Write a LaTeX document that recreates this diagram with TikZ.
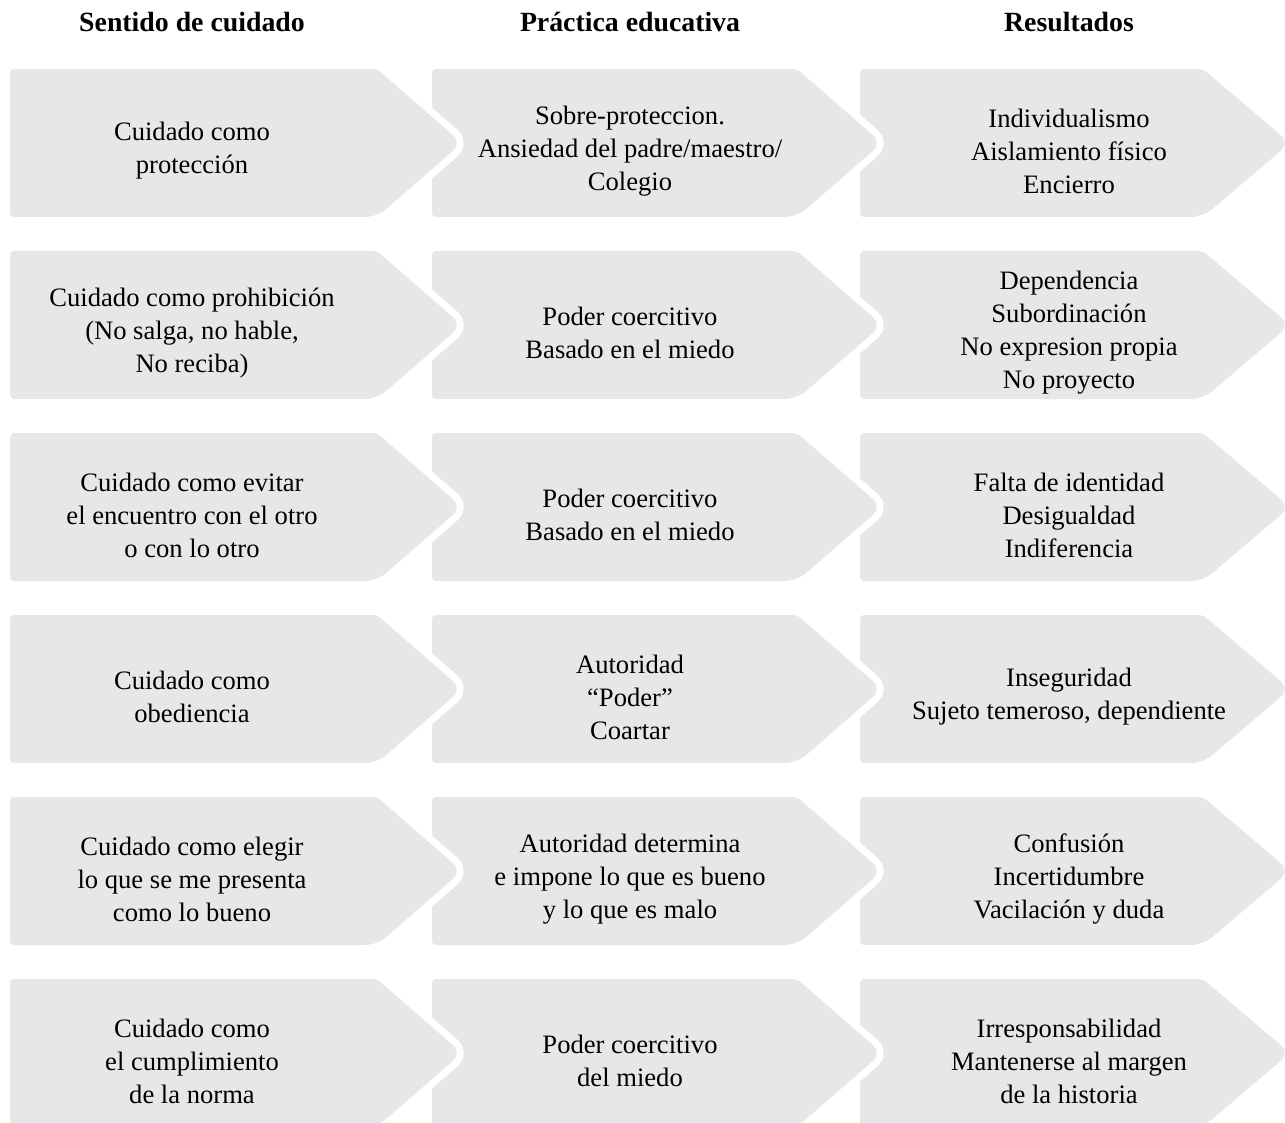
\documentclass[tikz,border=0pt]{standalone}
\usepackage{fontspec}
\setmainfont{Liberation Serif}
\usepackage{xcolor}
\usepackage{tikz}
\definecolor{chevgray}{HTML}{E6E7E8}

\begin{document}
\begin{tikzpicture}[
    x=0.5pt,y=-0.5pt, % one unit = one pixel of the reference
    outer sep=0pt,
    chev/.style={fill=chevgray,rounded corners=2pt},
    cutchev/.style={chev,preaction={draw=white,line width=7pt,line join=round,rounded corners=2pt}},
    txt/.style={align=center,font=\fontsize{13.3}{16.5}\selectfont},
    head/.style={font=\bfseries\fontsize{13.9}{16}\selectfont},
    ]
    \useasboundingbox (0,0) rectangle (1285,1123);
    \clip (0,0) rectangle (1285,1123);

    % chevrons, drawn right to left so each tip cuts into its neighbour
    \foreach \row in {0,...,5} {
        \pgfmathsetmacro{\rt}{69+182*\row}
        \pgfmathsetmacro{\rm}{\rt+74}
        \pgfmathsetmacro{\rb}{\rt+148}
        \path [chev]    (860,\rm) -- (860,\rt) -- (1203,\rt) [rounded corners=6pt] -- (1290,\rm) -- (1203,\rb) [rounded corners=2pt] -- (860,\rb) -- cycle;
        \path [cutchev] (432,\rm) -- (432,\rt) -- (797,\rt)  [rounded corners=6pt] -- (882,\rm)  -- (797,\rb)  [rounded corners=2pt] -- (432,\rb) -- cycle;
        \path [cutchev] (10,\rm)  -- (10,\rt)  -- (377,\rt)  [rounded corners=6pt] -- (462,\rm)  -- (377,\rb)  [rounded corners=2pt] -- (10,\rb)  -- cycle;
    }

    \node (hsent) [head] at (192,22)  {Sentido de cuidado};
    \node (hprac) [head] at (630,22)  {Práctica educativa};
    \node (hres)  [head] at (1069,22) {Resultados};

    \node (sent1) [txt] at (192,151)  {Cuidado como\\protección};
    \node (prac1) [txt] at (630,151)  {Sobre-proteccion.\\Ansiedad del padre/maestro/\\Colegio};
    \node (res1)  [txt] at (1069,151) {Individualismo\\Aislamiento físico\\Encierro};

    \node (sent2) [txt] at (192,333)  {Cuidado como prohibición\\(No salga, no hable,\\No reciba)};
    \node (prac2) [txt] at (630,333)  {Poder coercitivo\\Basado en el miedo};
    \node (res2)  [txt] at (1069,333) {Dependencia\\Subordinación\\No expresion propia\\No proyecto};

    \node (sent3) [txt] at (192,515)  {Cuidado como evitar\\el encuentro con el otro\\o con lo otro};
    \node (prac3) [txt] at (630,515)  {Poder coercitivo\\Basado en el miedo};
    \node (res3)  [txt] at (1069,515) {Falta de identidad\\Desigualdad\\Indiferencia};

    \node (sent4) [txt] at (192,697)  {Cuidado como\\obediencia};
    \node (prac4) [txt] at (630,697)  {Autoridad\\“Poder”\\Coartar};
    \node (res4)  [txt] at (1069,697) {Inseguridad\\Sujeto temeroso, dependiente};

    \node (sent5) [txt] at (192,879)  {Cuidado como elegir\\lo que se me presenta\\como lo bueno};
    \node (prac5) [txt] at (630,879)  {Autoridad determina\\e impone lo que es bueno\\y lo que es malo};
    \node (res5)  [txt] at (1069,879) {Confusión\\Incertidumbre\\Vacilación y duda};

    \node (sent6) [txt] at (192,1061)  {Cuidado como\\el cumplimiento\\de la norma};
    \node (prac6) [txt] at (630,1061)  {Poder coercitivo\\del miedo};
    \node (res6)  [txt] at (1069,1061) {Irresponsabilidad\\Mantenerse al margen\\de la historia};
\end{tikzpicture}
\end{document}
